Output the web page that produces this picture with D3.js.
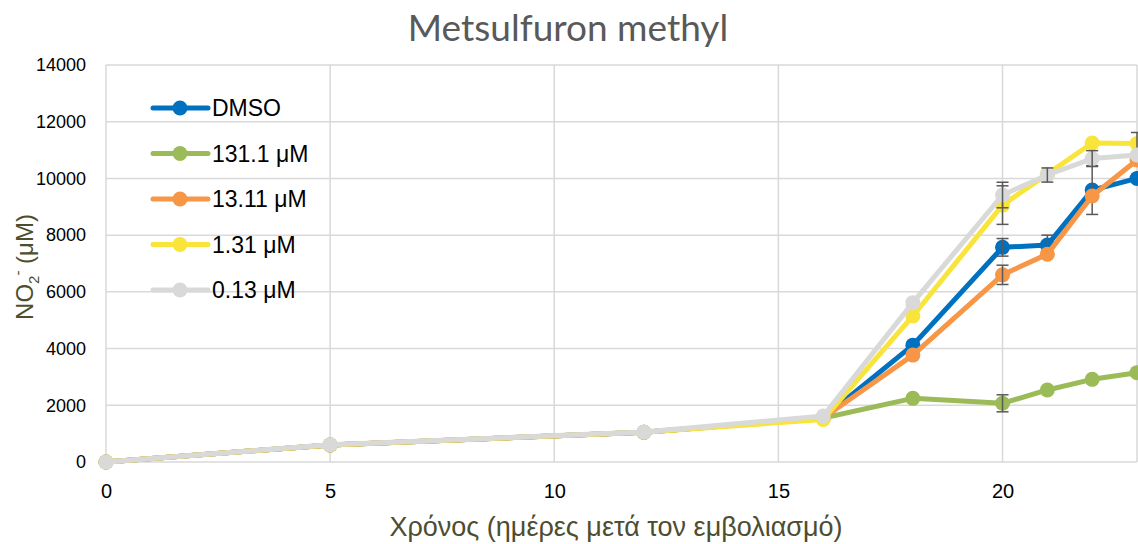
<!DOCTYPE html>
<html>
<head>
<meta charset="utf-8">
<script src="https://cdn.jsdelivr.net/npm/d3@7"></script>
<style>
  body { margin: 0; background: #fff; }
  svg { display: block; }
</style>
</head>
<body>
<div class="graph"></div>
<script>
// days after inoculation
const days = [0, 5, 12, 16, 18, 20, 21, 22, 23];

const dmso   = [0, 600, 1050, 1550, 4120, 7570, 7650, 9590, 10000];
const m131   = [0, 600, 1050, 1550, 2245, 2070, 2540, 2915, 3150];
const m13    = [0, 600, 1050, 1550, 3770, 6600, 7330, 9380, 10650];
const m1_31  = [0, 600, 1050, 1500, 5150, 9060, 10150, 11250, 11230];
const m0_13  = [0, 610, 1060, 1620, 5620, 9415, 10120, 10700, 10825];

// error bar half-widths (0 where none visible)
const dmsoErr  = [0, 0, 0, 0, 0, 310, 350, 860, 0];
const m131Err  = [0, 0, 0, 0, 0, 300, 0, 0, 0];
const m13Err   = [0, 0, 0, 0, 0, 340, 0, 0, 0];
const m1_31Err = [0, 0, 0, 0, 0, 680, 0, 0, 390];
const m0_13Err = [0, 0, 0, 0, 0, 450, 250, 280, 0];

const seriesNames = ['DMSO', '131.1 μM', '13.11 μM', '1.31 μM', '0.13 μM'];
const colors = ['#0070C0', '#9BBB59', '#F79646', '#F9E43C', '#D9D9D9'];
const yTicks = [0, 2000, 4000, 6000, 8000, 10000, 12000, 14000];
const xTicks = [0, 5, 10, 15, 20];

const series = [dmso, m131, m13, m1_31, m0_13].map((vals, i) => ({
    name: seriesNames[i],
    color: colors[i],
    err: [dmsoErr, m131Err, m13Err, m1_31Err, m0_13Err][i],
    values: vals
}));

const width = 1138, height = 544;
const margin = { top: 65, bottom: 82, left: 106, right: 1 };

const svg = d3.select('.graph')
    .append('svg')
    .attr('width', width)
    .attr('height', height);

const chart = svg.append('g')
    .attr('transform', `translate(${margin.left},${margin.top})`);
const chartWidth = width - margin.left - margin.right;
const chartHeight = height - margin.top - margin.bottom;

const xScale = d3.scaleLinear().domain([0, 23]).range([0, chartWidth]);
const yScale = d3.scaleLinear().domain([0, 14000]).range([chartHeight, 0]);

// gridlines
chart.selectAll('.hgrid')
    .data(yTicks)
    .enter()
    .append('line')
    .attr('x1', 0).attr('x2', chartWidth)
    .attr('y1', d => yScale(d)).attr('y2', d => yScale(d))
    .attr('stroke', '#d9d9d9').attr('stroke-width', 1.5);
chart.selectAll('.vgrid')
    .data(xTicks.concat([23]))
    .enter()
    .append('line')
    .attr('y1', 0).attr('y2', chartHeight)
    .attr('x1', d => xScale(d)).attr('x2', d => xScale(d))
    .attr('stroke', '#d9d9d9').attr('stroke-width', 1.5);

// axes (labels only)
const yAxis = d3.axisLeft(yScale).tickValues(yTicks).tickSize(0).tickPadding(20)
    .tickFormat(d3.format('d'));
chart.append('g')
    .classed('y axis', true)
    .call(yAxis)
    .call(g => g.select('.domain').remove())
    .selectAll('text')
    .style('font-family', '"Liberation Sans", Arial, sans-serif')
    .style('font-size', '18px')
    .attr('fill', '#000');

const xAxis = d3.axisBottom(xScale).tickValues(xTicks).tickSize(0).tickPadding(22);
chart.append('g')
    .classed('x axis', true)
    .attr('transform', `translate(0,${chartHeight})`)
    .call(xAxis)
    .call(g => g.select('.domain').remove())
    .selectAll('text')
    .style('font-family', '"Liberation Sans", Arial, sans-serif')
    .style('font-size', '20px')
    .attr('fill', '#000');

// lines, markers, error bars
const line = d3.line()
    .x((d, i) => xScale(days[i]))
    .y(d => yScale(d));

series.forEach(s => {
    const g = chart.append('g');
    g.append('path')
        .datum(s.values)
        .attr('fill', 'none')
        .attr('stroke', s.color)
        .attr('stroke-width', 5)
        .attr('stroke-linejoin', 'round')
        .attr('d', line);
    g.selectAll('circle')
        .data(s.values)
        .enter()
        .append('circle')
        .attr('cx', (d, i) => xScale(days[i]))
        .attr('cy', d => yScale(d))
        .attr('r', 7.5)
        .attr('fill', s.color);
    const eb = s.values.map((v, i) => ({ x: days[i], v: v, e: s.err[i] })).filter(d => d.e > 0);
    const ebg = g.selectAll('.err')
        .data(eb)
        .enter()
        .append('g')
        .attr('stroke', '#595959')
        .attr('stroke-width', 1.5);
    ebg.append('line')
        .attr('x1', d => xScale(d.x)).attr('x2', d => xScale(d.x))
        .attr('y1', d => yScale(d.v + d.e)).attr('y2', d => yScale(d.v - d.e));
    ebg.append('line')
        .attr('x1', d => xScale(d.x) - 6).attr('x2', d => xScale(d.x) + 6)
        .attr('y1', d => yScale(d.v + d.e)).attr('y2', d => yScale(d.v + d.e));
    ebg.append('line')
        .attr('x1', d => xScale(d.x) - 6).attr('x2', d => xScale(d.x) + 6)
        .attr('y1', d => yScale(d.v - d.e)).attr('y2', d => yScale(d.v - d.e));
});

// legend
const legend = svg.append('g').attr('transform', 'translate(153,108)');
const items = legend.selectAll('.item')
    .data(series)
    .enter()
    .append('g')
    .attr('transform', (d, i) => `translate(0,${i * 45.5})`);
items.append('line')
    .attr('x1', 0).attr('x2', 55)
    .attr('stroke', d => d.color)
    .attr('stroke-width', 5)
    .attr('stroke-linecap', 'round');
items.append('circle')
    .attr('cx', 27).attr('r', 7.5)
    .attr('fill', d => d.color);
items.append('text')
    .attr('x', 59)
    .attr('dy', '0.35em')
    .style('font-family', '"Liberation Sans", Arial, sans-serif')
    .style('font-size', '23px')
    .attr('fill', '#000')
    .text(d => d.name);

// title
svg.append('text')
    .attr('x', 568)
    .attr('y', 41)
    .attr('text-anchor', 'middle')
    .style('font-family', 'Lato, "Open Sans", sans-serif')
    .style('font-size', '37px')
    .attr('fill', '#595959')
    .text('Metsulfuron methyl');

// axis titles
svg.append('text')
    .attr('x', 616)
    .attr('y', 536)
    .attr('text-anchor', 'middle')
    .style('font-family', '"Liberation Sans", Arial, sans-serif')
    .style('font-size', '27px')
    .attr('fill', '#4d4d2f')
    .text('Χρόνος (ημέρες μετά τον εμβολιασμό)');

const yTitle = svg.append('text')
    .attr('transform', 'translate(33,267) rotate(-90)')
    .attr('text-anchor', 'middle')
    .style('font-family', '"Liberation Sans", Arial, sans-serif')
    .style('font-size', '24px')
    .attr('fill', '#4d4d2f');
yTitle.append('tspan').text('NO');
yTitle.append('tspan').attr('dy', 6).style('font-size', '15px').text('2');
yTitle.append('tspan').attr('dy', -16).style('font-size', '15px').text('-');
yTitle.append('tspan').attr('dy', 10).text(' (μM)');
</script>
</body>
</html>
